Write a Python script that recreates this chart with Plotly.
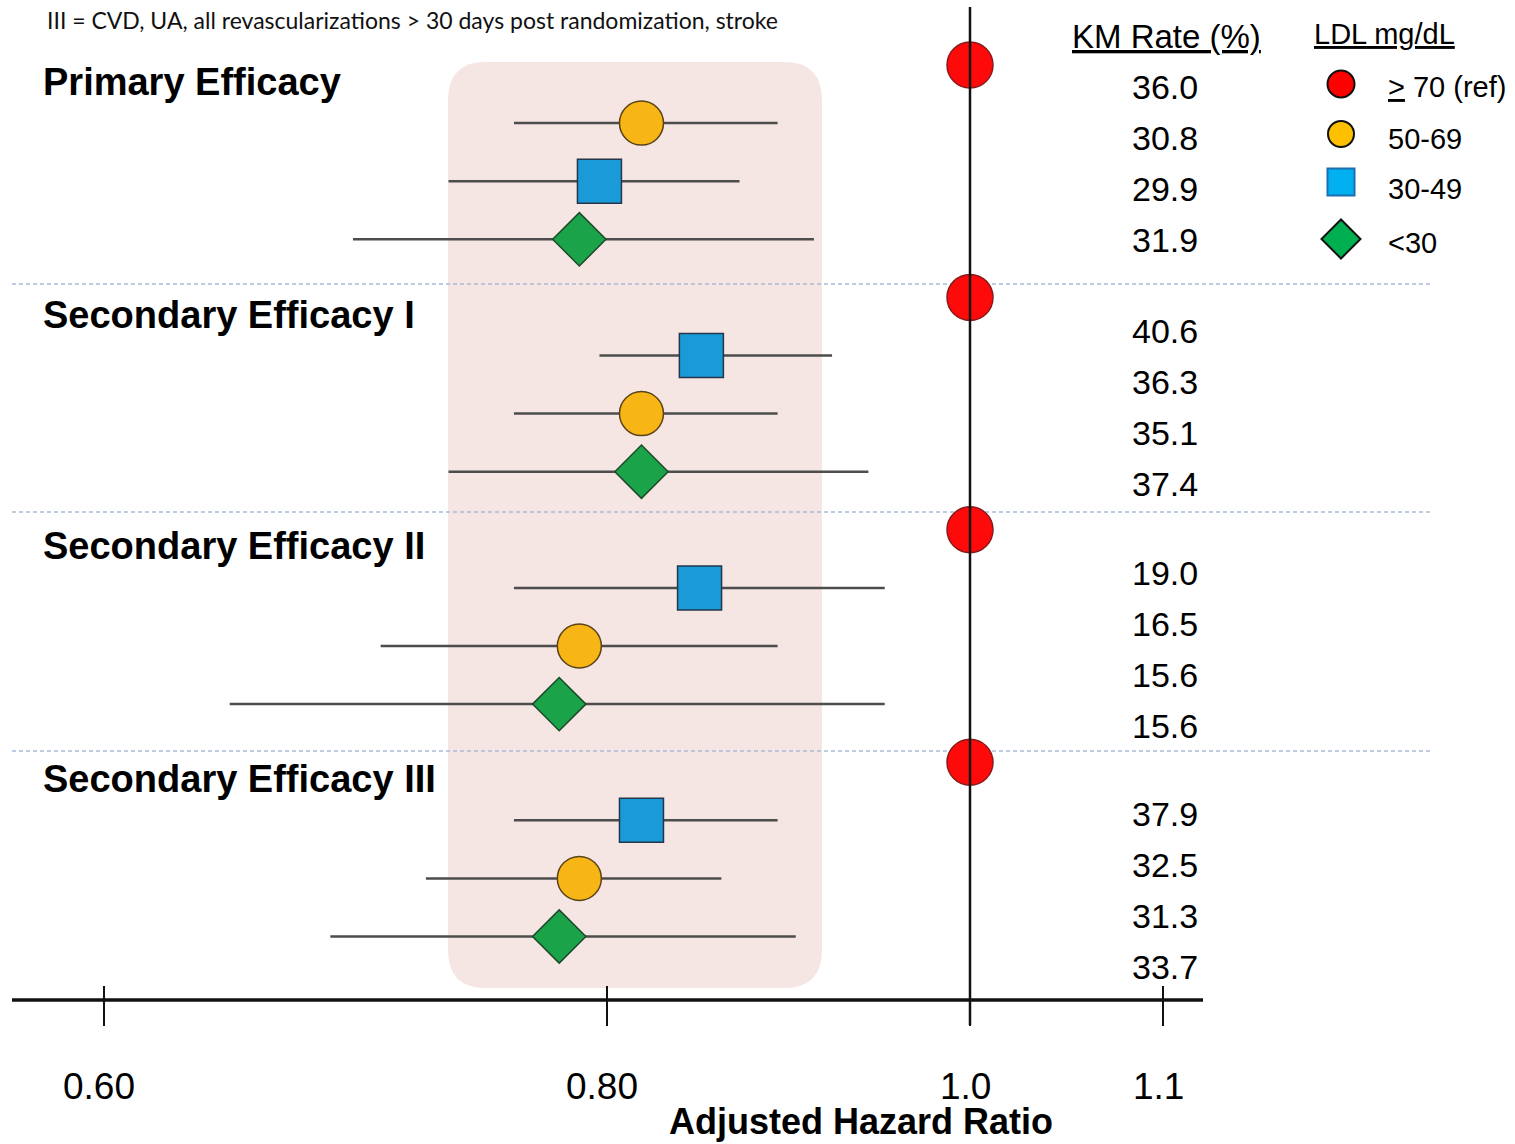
import numpy as np
import plotly.graph_objects as go

# ---------------- data ----------------
groups = ["Primary Efficacy", "Secondary Efficacy I", "Secondary Efficacy II", "Secondary Efficacy III"]
categories = ["ref", "50-69", "30-49", "<30"]
legend_labels = ["<u>&gt;</u> 70 (ref)", "50-69", "30-49", "<30"]
# order of rows inside each group (top to bottom)
row_order = [
    ["ref", "50-69", "30-49", "<30"],
    ["ref", "30-49", "50-69", "<30"],
    ["ref", "30-49", "50-69", "<30"],
    ["ref", "30-49", "50-69", "<30"],
]
hr_ref = [1.0, 1.0, 1.0, 1.0]
hr_50_69 = [0.819, 0.819, 0.789, 0.789]
lo_50_69 = [0.763, 0.763, 0.710, 0.728]
hi_50_69 = [0.894, 0.894, 0.894, 0.863]
hr_30_49 = [0.797, 0.852, 0.851, 0.819]
lo_30_49 = [0.737, 0.797, 0.763, 0.763]
hi_30_49 = [0.873, 0.924, 0.953, 0.894]
hr_lt30 = [0.789, 0.819, 0.781, 0.781]
lo_lt30 = [0.699, 0.737, 0.650, 0.690]
hi_lt30 = [0.914, 0.944, 0.953, 0.904]
km_rates = [
    [36.0, 30.8, 29.9, 31.9],
    [40.6, 36.3, 35.1, 37.4],
    [19.0, 16.5, 15.6, 15.6],
    [37.9, 32.5, 31.3, 33.7],
]
tick_values = [0.6, 0.8, 1.0, 1.1]
tick_labels = ["0.60", "0.80", "1.0", "1.1"]
caption = "III = CVD, UA, all revascularizations > 30 days post randomization, stroke"

# ---------------- scales ----------------
W, H = 1515, 1144
TICK_PX = [104, 607, 970, 1163]          # hand-drawn (non-uniform) axis scale


def xpos(v):
    return np.interp(np.asarray(v, dtype=float), tick_values, TICK_PX)


ROW0, ROWSTEP = 65, 58.1


def row_from_px(py):
    return (py - ROW0) / ROWSTEP


def fx(px):
    return px / W


def fy(py):
    return 1 - py / H


FONT = "Liberation Sans, Arial, sans-serif"

styles = {
    "ref": dict(symbol="circle", size=46, color="#FF0A0A", line=dict(color="#8a1a1a", width=1.5), opacity=1),
    "50-69": dict(symbol="circle", size=44, color="#F8B516", line=dict(color="#5a4318", width=1.5), opacity=1),
    "30-49": dict(symbol="square", size=44, color="#1A9BD7", line=dict(color="#24364a", width=1.5), opacity=1),
    "<30": dict(symbol="diamond", size=41, color="#1BA34A", line=dict(color="#1d4a2a", width=1.5), opacity=1),
}
legend_styles = {
    "ref": dict(symbol="circle", size=27, color="#FF0000", line=dict(color="#111111", width=2)),
    "50-69": dict(symbol="circle", size=26, color="#FFC000", line=dict(color="#111111", width=2)),
    "30-49": dict(symbol="square", size=27, color="#00B0F0", line=dict(color="#1a6fb0", width=2)),
    "<30": dict(symbol="diamond", size=30, color="#00B050", line=dict(color="#111111", width=2)),
}

series = {
    "ref": (hr_ref, None, None),
    "50-69": (hr_50_69, lo_50_69, hi_50_69),
    "30-49": (hr_30_49, lo_30_49, hi_30_49),
    "<30": (hr_lt30, lo_lt30, hi_lt30),
}

fig = go.Figure()

for cat in categories:
    hr, lo, hi = series[cat]
    rows = [4 * g + row_order[g].index(cat) for g in range(len(groups))]
    xs = xpos(hr)
    kw = {}
    if lo is not None:
        kw["error_x"] = dict(
            type="data", symmetric=False,
            array=list(xpos(hi) - xs), arrayminus=list(xs - xpos(lo)),
            color="#4d4d4d", thickness=2.5, width=0,
        )
    fig.add_trace(go.Scatter(
        x=list(xs), y=rows, mode="markers", marker=styles[cat],
        name=cat, showlegend=False, hoverinfo="skip", **kw,
    ))

# custom legend
leg_px_y = [84, 134, 182, 239]
fig.add_trace(go.Scatter(
    x=[1341] * 4, y=[row_from_px(v) for v in leg_px_y], mode="markers",
    marker=dict(
        symbol=[legend_styles[c]["symbol"] for c in categories],
        size=[legend_styles[c]["size"] for c in categories],
        color=[legend_styles[c]["color"] for c in categories],
        line=dict(color=[legend_styles[c]["line"]["color"] for c in categories], width=2),
        opacity=1,
    ),
    showlegend=False, hoverinfo="skip",
))

shapes = []
# shaded rounded rectangle
x0, x1, y0, y1, r = 448, 822, 62, 988, 38
P = lambda x, y: f"{fx(x):.5f},{fy(y):.5f}"
path = (f"M {P(x0 + r, y0)} L {P(x1 - r, y0)} Q {P(x1, y0)} {P(x1, y0 + r)} "
        f"L {P(x1, y1 - r)} Q {P(x1, y1)} {P(x1 - r, y1)} L {P(x0 + r, y1)} "
        f"Q {P(x0, y1)} {P(x0, y1 - r)} L {P(x0, y0 + r)} Q {P(x0, y0)} {P(x0 + r, y0)} Z")
shapes.append(dict(type="path", path=path, xref="paper", yref="paper",
                   fillcolor="#F5E5E3", line=dict(width=0), layer="below"))
# dashed separators
for py in [284, 512, 751]:
    shapes.append(dict(type="line", xref="paper", yref="paper", x0=fx(12), x1=fx(1430),
                       y0=fy(py), y1=fy(py), line=dict(color="#A9BBD8", width=1.5, dash="4px,3px"),
                       layer="below"))
# reference vertical line at HR = 1.0
shapes.append(dict(type="line", xref="x", yref="paper", x0=float(xpos(1.0)), x1=float(xpos(1.0)),
                   y0=fy(7), y1=fy(1025), line=dict(color="#111111", width=2.5), layer="above"))
# x axis line
shapes.append(dict(type="line", xref="paper", yref="paper", x0=fx(12), x1=fx(1203),
                   y0=fy(1000), y1=fy(1000), line=dict(color="#111111", width=3.5), layer="above"))
# ticks
for tv in tick_values:
    xp = float(xpos(tv))
    shapes.append(dict(type="line", xref="x", yref="paper", x0=xp, x1=xp,
                       y0=fy(986), y1=fy(1026), line=dict(color="#111111", width=2), layer="above"))

annotations = []
annotations.append(dict(text=caption, x=fx(45), y=fy(20), xref="paper", yref="paper",
                        xanchor="left", yanchor="middle", showarrow=False,
                        font=dict(family="Lato, Open Sans, sans-serif", size=23, color="#111111")))
for g, (name, py) in enumerate(zip(groups, [82, 315, 546, 779])):
    annotations.append(dict(text=f"<b>{name}</b>", x=fx(41), y=fy(py), xref="paper", yref="paper",
                            xanchor="left", yanchor="middle", showarrow=False,
                            font=dict(family=FONT, size=38, color="#000000")))
annotations.append(dict(text="<u>KM Rate (%)</u>", x=fx(1166), y=fy(37), xref="paper", yref="paper",
                        xanchor="center", yanchor="middle", showarrow=False,
                        font=dict(family=FONT, size=33, color="#000000")))
annotations.append(dict(text="<u>LDL mg/dL</u>", x=fx(1384), y=fy(34), xref="paper", yref="paper",
                        xanchor="center", yanchor="middle", showarrow=False,
                        font=dict(family=FONT, size=29, color="#000000")))
km_group_top = [87, 331, 573, 814]
km_step = 51
for g in range(len(groups)):
    for j, v in enumerate(km_rates[g]):
        annotations.append(dict(text=f"{v:.1f}", x=fx(1165), y=fy(km_group_top[g] + j * km_step),
                                xref="paper", yref="paper", xanchor="center", yanchor="middle",
                                showarrow=False, font=dict(family=FONT, size=34, color="#000000")))
for lab, py in zip(legend_labels, [87, 139, 189, 243]):
    annotations.append(dict(text=lab, x=fx(1386), y=fy(py), xref="paper", yref="paper",
                            xanchor="left", yanchor="middle", showarrow=False,
                            font=dict(family=FONT, size=29, color="#000000")))
for tv, tl in zip(tick_values, tick_labels):
    annotations.append(dict(text=tl, x=float(xpos(tv)) - 5, y=fy(1086), xref="x", yref="paper",
                            xanchor="center", yanchor="middle", showarrow=False,
                            font=dict(family=FONT, size=37, color="#000000")))
annotations.append(dict(text="<b>Adjusted Hazard Ratio</b>", x=fx(861), y=fy(1121), xref="paper",
                        yref="paper", xanchor="center", yanchor="middle", showarrow=False,
                        font=dict(family=FONT, size=36, color="#000000")))

fig.update_layout(
    width=W, height=H, margin=dict(l=0, r=0, t=0, b=0),
    paper_bgcolor="white", plot_bgcolor="white",
    xaxis=dict(range=[0, W], visible=False, fixedrange=True),
    yaxis=dict(range=[row_from_px(H), row_from_px(0)], visible=False, fixedrange=True),
    shapes=shapes, annotations=annotations, showlegend=False,
)

fig.write_html("out.html")
